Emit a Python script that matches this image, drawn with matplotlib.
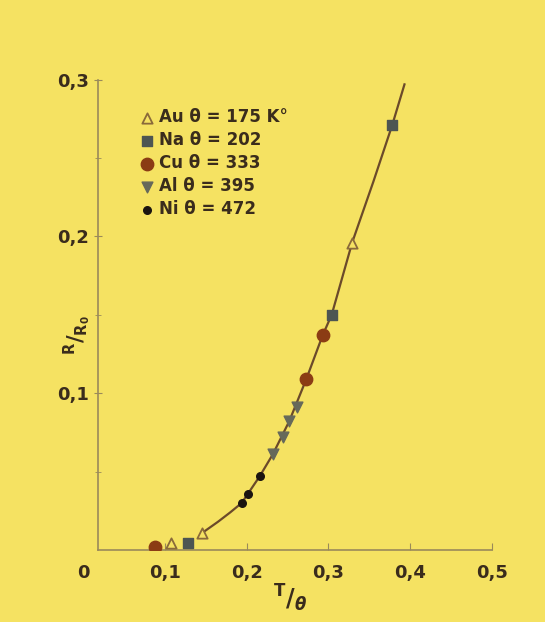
import numpy as np
import matplotlib.pyplot as plt
from matplotlib.ticker import FixedLocator

# values (T/theta, R/R0)
au_x = [0.108, 0.146, 0.329]
au_y = [0.0045, 0.011, 0.196]
na_x = [0.128, 0.304, 0.378]
na_y = [0.0045, 0.150, 0.271]
cu_x = [0.088, 0.273, 0.293]
cu_y = [0.002, 0.109, 0.137]
al_x = [0.232, 0.244, 0.252, 0.262]
al_y = [0.061, 0.072, 0.082, 0.091]
ni_x = [0.194, 0.202, 0.216]
ni_y = [0.030, 0.036, 0.047]

# hand drawn curve through the points
curve_x = [0.146, 0.165, 0.180, 0.194, 0.216, 0.232, 0.252, 0.273, 0.293, 0.304, 0.329, 0.355, 0.378, 0.393]
curve_y = [0.011, 0.018, 0.024, 0.030, 0.047, 0.061, 0.082, 0.109, 0.137, 0.150, 0.196, 0.235, 0.271, 0.297]

labels = ['Au θ = 175 K°', 'Na θ = 202', 'Cu θ = 333', 'Al θ = 395', 'Ni θ = 472']
xticks = [0, 0.1, 0.2, 0.3, 0.4, 0.5]
xticklabels = ['0', '0,1', '0,2', '0,3', '0,4', '0,5']
yticks = [0.1, 0.2, 0.3]
yticklabels = ['0,1', '0,2', '0,3']

bg = '#f5e262'
ink = '#3a2c1c'
plt.rcParams['font.family'] = ['DejaVu Sans']
plt.rcParams['font.weight'] = 'bold'

fig = plt.figure(figsize=(5.45, 6.22), dpi=100, facecolor=bg)
ax = fig.add_axes([83/545, 1-550/622, 409/545, (550-64)/622])
ax.set_facecolor(bg)

ax.plot(curve_x, curve_y, color='#6b4a2a', lw=1.6, zorder=1)
ax.scatter(au_x, au_y, marker='^', s=55, facecolor=bg, edgecolor='#8a6a3a', lw=1.3, zorder=3, label=labels[0])
ax.scatter(na_x, na_y, marker='s', s=50, color='#4d5552', zorder=3, label=labels[1])
ax.scatter(cu_x, cu_y, marker='o', s=80, color='#8b3c14', zorder=3, label=labels[2])
ax.scatter(al_x, al_y, marker='v', s=60, color='#66695a', zorder=3, label=labels[3])
ax.scatter(ni_x, ni_y, marker='o', s=30, color='#1a1410', zorder=3, label=labels[4])

ax.set_xlim(0, 0.5)
ax.set_ylim(0, 0.31)
ax.spines['top'].set_visible(False)
ax.spines['right'].set_visible(False)
ax.spines['left'].set_position(('data', 0.018))
ax.spines['bottom'].set_bounds(0.018, 0.5)
ax.spines['left'].set_bounds(0, 0.3)
for s in ['left', 'bottom']:
    ax.spines[s].set_color('#9a8a5a')
    ax.spines[s].set_linewidth(1.2)

ax.set_xticks(xticks)
ax.set_xticklabels(xticklabels)
ax.set_yticks(yticks)
ax.set_yticklabels(yticklabels)
ax.yaxis.set_minor_locator(FixedLocator([0.05, 0.15, 0.25]))
ax.tick_params(axis='x', direction='in', length=5, pad=10, colors='#9a8a5a', labelcolor=ink, labelsize=13)
ax.tick_params(axis='y', direction='inout', length=6, pad=3, colors='#9a8a5a', labelcolor=ink, labelsize=13)
ax.tick_params(axis='y', which='minor', direction='inout', length=5, colors='#9a8a5a')
ax.xaxis.get_major_ticks()[0].tick1line.set_visible(False)

fig.text(77/545, 1-335/622, r'$^\mathrm{R}/_{\mathrm{R}_0}$', rotation=90, ha='center', va='center', fontsize=15, color=ink)
fig.text(290/545, 1-598/622, r'$^\mathrm{T}/_\theta$', ha='center', va='center', fontsize=17, color=ink)

ax.legend(loc='upper left', bbox_to_anchor=(0.10, 0.94), frameon=False, handletextpad=0.2,
          labelspacing=0.3, handlelength=1.0, prop={'size': 12, 'weight': 'bold'}, labelcolor=ink)

fig.savefig('out.png', dpi=100, facecolor=bg)
